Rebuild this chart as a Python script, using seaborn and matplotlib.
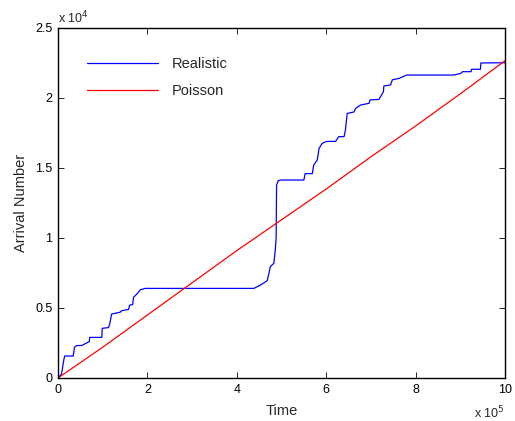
import matplotlib
matplotlib.use("Agg")
import matplotlib.pyplot as plt
import seaborn as sns
import pandas as pd

# Data (time in units of 1e5, arrivals in units of 1e4)
realistic_time = [0, 0.08, 0.13, 0.15, 0.34, 0.37, 0.42, 0.53, 0.70, 0.71, 0.98, 0.99,
                  1.13, 1.16, 1.20, 1.39, 1.42, 1.58, 1.60, 1.67, 1.69, 1.78, 1.84, 1.95,
                  4.38, 4.53, 4.68, 4.72, 4.75, 4.83, 4.86, 4.88, 4.89, 4.93, 4.98, 5.50,
                  5.53, 5.69, 5.72, 5.80, 5.84, 5.91, 6.01, 6.21, 6.28, 6.40, 6.43, 6.47,
                  6.62, 6.66, 6.77, 6.96, 6.98, 7.18, 7.28, 7.29, 7.44, 7.48, 7.63, 7.80,
                  8.86, 9.01, 9.05, 9.24, 9.25, 9.45, 9.46, 10.0]
realistic_count = [0, 0.03, 0.13, 0.157, 0.157, 0.22, 0.232, 0.232, 0.26, 0.29, 0.29, 0.355,
                   0.36, 0.39, 0.457, 0.47, 0.48, 0.49, 0.52, 0.525, 0.576, 0.605, 0.63, 0.64,
                   0.64, 0.664, 0.695, 0.75, 0.795, 0.82, 0.914, 1.0, 1.379, 1.41, 1.414, 1.414,
                   1.46, 1.46, 1.52, 1.557, 1.64, 1.676, 1.69, 1.69, 1.724, 1.724, 1.771, 1.89,
                   1.90, 1.926, 1.95, 1.962, 1.986, 1.99, 2.045, 2.086, 2.093, 2.13, 2.14, 2.164,
                   2.164, 2.176, 2.188, 2.188, 2.205, 2.205, 2.25, 2.252]
poisson_time = [0, 1, 2, 3, 4, 5, 6, 7, 8, 9, 10]
poisson_count = [0, 0.22, 0.45, 0.68, 0.91, 1.13, 1.35, 1.58, 1.80, 2.03, 2.266]

x_ticks = [0, 2, 4, 6, 8, 10]
y_ticks = [0, 0.5, 1, 1.5, 2, 2.5]
y_tick_labels = ["0", "0.5", "1", "1.5", "2", "2.5"]

sns.set_theme(style="ticks")
plt.rcParams['font.family'] = ['Liberation Sans', 'DejaVu Sans']

fig = plt.figure(figsize=(5.15, 4.21), dpi=100)
ax = fig.add_axes([58/515, 1-378/421, (505-58)/515, (378-28)/421])

df_r = pd.DataFrame({"t": realistic_time, "n": realistic_count})
df_p = pd.DataFrame({"t": poisson_time, "n": poisson_count})
sns.lineplot(data=df_r, x="t", y="n", color="#0000ff", lw=0.9, sort=False,
             estimator=None, ax=ax, label="Realistic")
sns.lineplot(data=df_p, x="t", y="n", color="#ff0000", lw=0.9, sort=False,
             estimator=None, ax=ax, label="Poisson")

ax.set_xlim(0, 10)
ax.set_ylim(0, 2.5)
ax.set_xticks(x_ticks)
ax.set_xticklabels([str(v) for v in x_ticks])
ax.set_yticks(y_ticks)
ax.set_yticklabels(y_tick_labels)
ax.tick_params(direction="in", length=4, width=0.6, labelsize=9, colors="black",
               top=True, right=True, pad=4)
for s in ax.spines.values():
    s.set_visible(True)
    s.set_linewidth(1.0)
    s.set_color("black")

ax.set_xlabel("Time", fontsize=10.5, labelpad=6)
ax.set_ylabel("Arrival Number", fontsize=10.5, labelpad=5)

ax.text(0.0, 1.005, "x 10$^{4}$", transform=ax.transAxes, fontsize=9,
        ha="left", va="bottom")
ax.text(1.0, -0.075, "x 10$^{5}$", transform=ax.transAxes, fontsize=9,
        ha="right", va="top")

leg = ax.legend(loc="upper left", frameon=False, fontsize=10.5, handlelength=4.9,
                handletextpad=0.9, labelspacing=0.9, bbox_to_anchor=(0.035, 0.955))

fig.savefig("out.png", dpi=100)
